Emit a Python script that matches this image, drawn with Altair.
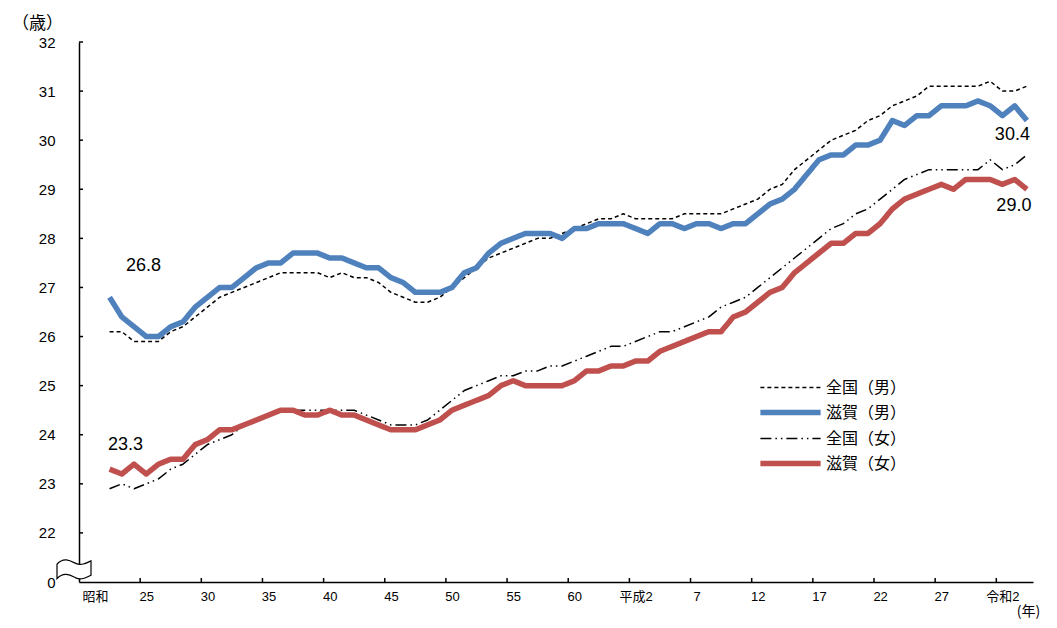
import altair as alt
import pandas as pd

# ---------------- data ----------------
years = list(range(1947, 2023))

zenkoku_m = [
    26.1, 26.1, 25.9, 25.9, 25.9, 26.1, 26.2, 26.4, 26.6, 26.8,
    26.9, 27.0, 27.1, 27.2, 27.3, 27.3, 27.3, 27.3, 27.2, 27.3,
    27.2, 27.2, 27.1, 26.9, 26.8, 26.7, 26.7, 26.8, 27.0, 27.2,
    27.4, 27.6, 27.7, 27.8, 27.9, 28.0, 28.0, 28.1, 28.2, 28.3,
    28.4, 28.4, 28.5, 28.4, 28.4, 28.4, 28.4, 28.5, 28.5, 28.5,
    28.5, 28.6, 28.7, 28.8, 29.0, 29.1, 29.4, 29.6, 29.8, 30.0,
    30.1, 30.2, 30.4, 30.5, 30.7, 30.8, 30.9, 31.1, 31.1, 31.1,
    31.1, 31.1, 31.2, 31.0, 31.0, 31.1,
]
shiga_m = [
    26.8, 26.4, 26.2, 26.0, 26.0, 26.2, 26.3, 26.6, 26.8, 27.0,
    27.0, 27.2, 27.4, 27.5, 27.5, 27.7, 27.7, 27.7, 27.6, 27.6,
    27.5, 27.4, 27.4, 27.2, 27.1, 26.9, 26.9, 26.9, 27.0, 27.3,
    27.4, 27.7, 27.9, 28.0, 28.1, 28.1, 28.1, 28.0, 28.2, 28.2,
    28.3, 28.3, 28.3, 28.2, 28.1, 28.3, 28.3, 28.2, 28.3, 28.3,
    28.2, 28.3, 28.3, 28.5, 28.7, 28.8, 29.0, 29.3, 29.6, 29.7,
    29.7, 29.9, 29.9, 30.0, 30.4, 30.3, 30.5, 30.5, 30.7, 30.7,
    30.7, 30.8, 30.7, 30.5, 30.7, 30.4,
]
zenkoku_f = [
    22.9, 23.0, 22.9, 23.0, 23.1, 23.3, 23.4, 23.6, 23.8, 23.9,
    24.0, 24.2, 24.3, 24.4, 24.5, 24.5, 24.5, 24.5, 24.5, 24.5,
    24.5, 24.4, 24.3, 24.2, 24.2, 24.2, 24.3, 24.5, 24.7, 24.9,
    25.0, 25.1, 25.2, 25.2, 25.3, 25.3, 25.4, 25.4, 25.5, 25.6,
    25.7, 25.8, 25.8, 25.9, 26.0, 26.1, 26.1, 26.2, 26.3, 26.4,
    26.6, 26.7, 26.8, 27.0, 27.2, 27.4, 27.6, 27.8, 28.0, 28.2,
    28.3, 28.5, 28.6, 28.8, 29.0, 29.2, 29.3, 29.4, 29.4, 29.4,
    29.4, 29.4, 29.6, 29.4, 29.5, 29.7,
]
shiga_f = [
    23.3, 23.2, 23.4, 23.2, 23.4, 23.5, 23.5, 23.8, 23.9, 24.1,
    24.1, 24.2, 24.3, 24.4, 24.5, 24.5, 24.4, 24.4, 24.5, 24.4,
    24.4, 24.3, 24.2, 24.1, 24.1, 24.1, 24.2, 24.3, 24.5, 24.6,
    24.7, 24.8, 25.0, 25.1, 25.0, 25.0, 25.0, 25.0, 25.1, 25.3,
    25.3, 25.4, 25.4, 25.5, 25.5, 25.7, 25.8, 25.9, 26.0, 26.1,
    26.1, 26.4, 26.5, 26.7, 26.9, 27.0, 27.3, 27.5, 27.7, 27.9,
    27.9, 28.1, 28.1, 28.3, 28.6, 28.8, 28.9, 29.0, 29.1, 29.0,
    29.2, 29.2, 29.2, 29.1, 29.2, 29.0,
]

series_names = ["全国（男）", "滋賀（男）", "全国（女）", "滋賀（女）"]
series_colors = ["#000000", "#4F81BD", "#000000", "#C0504D"]
series_dash = [[4, 3], [1, 0], [11, 4, 1.5, 4, 1.5, 4], [1, 0]]
series_width = [1.5, 5.5, 1.5, 5.5]

# x axis labels (category centres) and tick marks (between categories)
label_years = [1945.8, 1950, 1955, 1960, 1965, 1970, 1975, 1980, 1985,
               1990, 1995, 2000, 2005, 2010, 2015, 2020]
label_texts = ["昭和", "25", "30", "35", "40", "45", "50", "55", "60",
               "平成2", "7", "12", "17", "22", "27", "令和2"]
tick_years = [1949.5, 1954.5, 1959.5, 1964.5, 1969.5, 1974.5, 1979.5,
              1984.5, 1989.5, 1994.5, 1999.5, 2004.5, 2009.5, 2014.5, 2019.5]
y_values = [21, 22, 23, 24, 25, 26, 27, 28, 29, 30, 31, 32]

X_MIN, X_MAX = 1944.5, 2022.5
Y_MIN, Y_MAX = 21, 32

FONT = "Liberation Sans, Noto Sans CJK JP, sans-serif"
CJK = "Noto Sans CJK JP, sans-serif"

# ---------------- frames ----------------
rows = []
for name, vals in zip(series_names, [zenkoku_m, shiga_m, zenkoku_f, shiga_f]):
    for yr, v in zip(years, vals):
        rows.append({"year": yr, "value": v, "series": name})
df = pd.DataFrame(rows)
df_nat = df[df["series"].str.startswith("全国")]
df_shiga = df[df["series"].str.startswith("滋賀")]

x_expr = " : ".join(
    f"datum.value == {y} ? '{t}'" for y, t in zip(label_years, label_texts)
) + " : ''"

xscale = alt.Scale(domain=[X_MIN, X_MAX], nice=False, zero=False)
yscale = alt.Scale(domain=[Y_MIN, Y_MAX], nice=False, zero=False)

xaxis = alt.Axis(
    values=label_years, labelExpr=x_expr, ticks=False, grid=False,
    domainColor="black", domainWidth=1.5, labelFont=FONT, labelFontSize=13,
    labelColor="black", labelPadding=8, labelOverlap=False, labelFlush=False,
    title="(年)", titleFont=CJK, titleFontSize=14, titleFontWeight="normal",
    titleColor="black", titleX=949, titleY=29, titleAlign="center",
    titleBaseline="middle",
)
yaxis = alt.Axis(
    values=y_values, labelExpr="datum.value == 21 ? '0' : datum.label",
    ticks=False, grid=False, domainColor="black", domainWidth=1.5,
    labelFont=FONT, labelFontSize=15, labelColor="black", labelPadding=24,
    title="（歳）", titleFont=CJK, titleFontSize=17, titleFontWeight="normal",
    titleColor="black", titleAngle=0, titleX=-42, titleY=-19,
    titleAlign="center", titleBaseline="middle",
)

legend = alt.Legend(
    title=None, orient="none", legendX=700, legendY=336,
    symbolType="M-3.5,0L3.5,0", symbolSize=296, labelOffset=24,
    labelFont=CJK, labelFontSize=16, labelColor="black", rowPadding=5,
)

enc = dict(
    x=alt.X("year:Q", scale=xscale, axis=xaxis),
    y=alt.Y("value:Q", scale=yscale, axis=yaxis),
    color=alt.Color("series:N", scale=alt.Scale(domain=series_names, range=series_colors), legend=legend),
    strokeDash=alt.StrokeDash("series:N", scale=alt.Scale(domain=series_names, range=series_dash), legend=legend),
    strokeWidth=alt.StrokeWidth("series:N", scale=alt.Scale(domain=series_names, range=series_width, type="ordinal"), legend=legend),
)

nat_lines = alt.Chart(df_nat).mark_line(strokeJoin="round").encode(**enc)
shiga_lines = alt.Chart(df_shiga).mark_line(strokeJoin="round").encode(**enc)

# tick marks pointing inward
xticks = alt.Chart(pd.DataFrame({"year": tick_years})).mark_rule(
    color="black", strokeWidth=1.5, y2Offset=-4
).encode(x="year:Q", y=alt.datum(Y_MIN), y2=alt.datum(Y_MIN))
yticks = alt.Chart(pd.DataFrame({"value": y_values[1:]})).mark_rule(
    color="black", strokeWidth=1.5, x2Offset=4
).encode(y="value:Q", x=alt.datum(X_MIN), x2=alt.datum(X_MIN))

# axis break symbol
BREAK_PATH = ("M-1,-0.25 C-0.6,-0.7 -0.2,-0.45 0.1,-0.3 C0.4,-0.15 0.7,-0.3 1,-0.45 "
              "L1,0.4 C0.7,0.55 0.4,0.7 0.1,0.55 C-0.2,0.4 -0.6,0.15 -1,0.6 Z")
brk = alt.Chart(pd.DataFrame({"year": [X_MIN], "value": [Y_MIN]})).mark_point(
    shape=BREAK_PATH, size=1156, filled=True, fill="white", stroke="black",
    strokeWidth=1.2, opacity=1, xOffset=-5, yOffset=-13.5
).encode(x="year:Q", y="value:Q")


def note(yr, val, dx, dy):
    d = pd.DataFrame({"year": [yr], "value": [val], "label": [f"{val:.1f}"]})
    return alt.Chart(d).mark_text(
        font=FONT, fontSize=18, color="black", dx=dx, dy=dy,
        align="center", baseline="middle"
    ).encode(x="year:Q", y="value:Q", text="label:N")


notes = [
    note(years[0], shiga_m[0], 34, -31),
    note(years[0], shiga_f[0], 16, -24),
    note(years[-1], shiga_m[-1], -14.5, 14.5),
    note(years[-1], shiga_f[-1], -13, 17),
]

chart = alt.layer(nat_lines, shiga_lines, xticks, yticks, brk, *notes).properties(
    width=954, height=540,
    padding={"left": 71, "top": 34, "right": 16, "bottom": 38},
    autosize=alt.AutoSizeParams(type="none"),
).configure_view(stroke=None)

chart.save("out.html", embed_options={"renderer": "svg", "actions": False})
